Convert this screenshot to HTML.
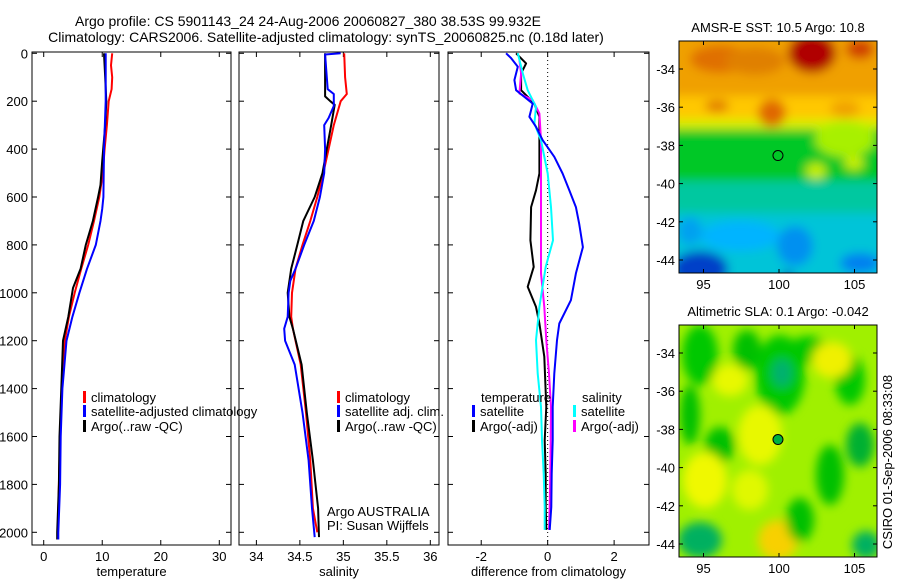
<!DOCTYPE html>
<html><head><meta charset="utf-8">
<style>
html,body{margin:0;padding:0;background:#fff;}
svg{display:block;font-family:"Liberation Sans",sans-serif;}
text{fill:#000;}
</style></head>
<body>
<svg id="fig" width="900" height="580" viewBox="0 0 900 580" xmlns="http://www.w3.org/2000/svg">
<defs>
<filter id="blur4" x="-20%" y="-20%" width="140%" height="140%"><feGaussianBlur stdDeviation="5"/></filter>
<clipPath id="clipM1"><rect x="679" y="41" width="198" height="232"/></clipPath>
<clipPath id="clipM2"><rect x="679" y="325" width="198" height="232"/></clipPath>
</defs>
<text x="308" y="26" font-size="14" text-anchor="middle">Argo profile: CS 5901143_24 24-Aug-2006 20060827_380 38.53S 99.932E</text>
<text x="326" y="42" font-size="14" text-anchor="middle">Climatology: CARS2006. Satellite-adjusted climatology: synTS_20060825.nc (0.18d later)</text>
<g id="panels"></g>
<g id="maps"></g>
<text transform="translate(892,462) rotate(-90)" font-size="13" text-anchor="middle">CSIRO 01-Sep-2006 08:33:08</text>
</svg>
<script>
// ---- data ----
const depthTicks = [0,200,400,600,800,1000,1200,1400,1600,1800,2000];
const tempTicks = [0,10,20,30];
const salTicks = [34,34.5,35,35.5,36];
const salTickLabels = ["34","34.5","35","35.5","36"];
const diffTicks = [-2,0,2];

const tClimDepth = [0,50,100,150,200,300,400,500,600,700,800,900,1000,1100,1200,1400,1600,1800,2000];
const tClim = [11.7,11.5,11.7,11.6,11.1,10.8,10.4,10.1,9.5,8.6,7.6,6.4,5.3,4.3,3.6,3.1,2.8,2.6,2.4];
const tSatDepth = [0,200,400,600,650,700,800,900,1000,1100,1200,1400,1600,1800,2000,2030];
const tSat = [10.6,10.6,10.3,10.2,10.0,9.7,8.9,7.4,6.1,4.9,3.9,3.2,2.9,2.8,2.5,2.5];
const tArgoDepth = [0,100,200,300,450,550,600,700,800,900,980,1100,1200,1400,1600,1800,2000,2030];
const tArgo = [10.3,10.5,10.7,10.5,10.0,9.7,9.3,8.4,7.2,6.3,5.0,4.2,3.3,3.0,2.7,2.6,2.3,2.3];

const sClimDepth = [0,100,170,200,300,400,500,600,700,800,900,1000,1100,1150,1300,1500,1700,1900,2000];
const sClim = [35.01,35.02,35.04,34.97,34.89,34.83,34.77,34.70,34.62,34.53,34.45,34.41,34.40,34.42,34.51,34.57,34.62,34.65,34.70];
const sSatDepth = [0,5,100,150,170,220,270,300,400,500,600,700,800,900,950,1000,1100,1150,1200,1300,1500,1700,1900,2020];
const sSat = [34.97,34.79,34.81,34.82,34.89,34.89,34.83,34.78,34.79,34.78,34.73,34.66,34.55,34.45,34.39,34.37,34.36,34.32,34.33,34.44,34.53,34.60,34.64,34.67];
const sArgoDepth = [0,180,200,215,300,400,500,600,700,800,900,1000,1100,1150,1300,1500,1700,1900,2020];
const sArgo = [34.79,34.79,34.85,34.90,34.86,34.81,34.76,34.67,34.54,34.47,34.40,34.36,34.38,34.42,34.52,34.58,34.65,34.71,34.72];

const dTSatDepth = [0,20,56,112,154,210,265,307,363,432,502,572,642,712,809,919,1031,1128,1198,1337,1477,1616,1755,1894,1990];
const dTSat = [-1.25,-1.1,-0.9,-1.0,-0.95,-0.45,-0.55,-0.35,-0.15,0.2,0.45,0.65,0.85,0.95,1.06,0.85,0.7,0.35,0.28,0.2,0.15,0.15,0.12,0.11,0.06];
const dTArgoDepth = [0,42,84,154,210,265,363,502,572,642,781,892,975,1059,1128,1267,1477,1616,1755,1894,1990];
const dTArgo = [-0.95,-0.65,-0.8,-0.8,-0.4,-0.25,-0.25,-0.25,-0.35,-0.5,-0.52,-0.42,-0.6,-0.35,-0.25,-0.1,-0.04,-0.09,-0.06,-0.06,-0.04];
const dSSatDepth = [0,84,154,224,293,363,502,642,781,892,1059,1198,1337,1477,1616,1755,1894,1990];
const dSSat = [-0.9,-0.75,-0.6,-0.35,-0.4,-0.2,0.0,0.1,0.16,-0.06,-0.25,-0.35,-0.3,-0.2,-0.17,-0.12,-0.09,-0.09];
const dSArgoDepth = [28,84,168,196,251,363,502,642,781,919,1059,1198,1337,1477,1616,1755,1894,1990];
const dSArgo = [-0.85,-0.8,-0.85,-0.45,-0.25,-0.2,-0.2,-0.2,-0.2,-0.2,-0.1,-0.04,0.04,0.1,0.09,0.08,0.06,0.04];

// ---- helpers ----
const NS = "http://www.w3.org/2000/svg";
function mk(tag, attrs, parent){ const e=document.createElementNS(NS,tag); for(const k in attrs) e.setAttribute(k,attrs[k]); parent.appendChild(e); return e; }
const panelsG = document.getElementById('panels');
const yTop = 52, yBot = 545;
const yScale = d => 53.3 + d*0.2395;

function makePanel(name, x0, x1, xmin, xmax, ticks, tickLabels, xlabel, leftLabels){
  const g = mk('g',{},panelsG);
  
  
  const xs = v => x0 + (v - xmin)/(xmax - xmin)*(x1 - x0);
  const frame = mk('rect',{x:x0,y:yTop,width:x1-x0,height:yBot-yTop,fill:'none',stroke:'#000','stroke-width':1},g);
  
  
  depthTicks.forEach(d=>{
    const y = yScale(d);
    mk('line',{x1:x0,y1:y,x2:x0+5,y2:y,stroke:'#000'},g);
    mk('line',{x1:x1,y1:y,x2:x1-5,y2:y,stroke:'#000'},g);
    if(leftLabels){
      const t = mk('text',{x:x0-4,y:y+5,'font-size':13,'text-anchor':'end'},g);
      t.textContent = d;
      
      
    }
  });
  ticks.forEach((v,i)=>{
    const x = xs(v);
    mk('line',{x1:x,y1:yBot,x2:x,y2:yBot-5,stroke:'#000'},g);
    mk('line',{x1:x,y1:yTop,x2:x,y2:yTop+5,stroke:'#000'},g);
    const t = mk('text',{x:x,y:yBot+16,'font-size':13,'text-anchor':'middle'},g);
    t.textContent = tickLabels[i];
    
    
  });
  const xl = mk('text',{x:(x0+x1)/2,y:576,'font-size':13,'text-anchor':'middle'},g);
  xl.textContent = xlabel;
  
  
  return {g, xs};
}
function drawLine(p, depths, vals, color, name, w){
  const pts = depths.map((d,i)=>p.xs(vals[i]).toFixed(1)+','+yScale(d).toFixed(1)).join(' ');
  const l = mk('polyline',{points:pts,fill:'none',stroke:color,'stroke-width':w||2,'stroke-linejoin':'round'},p.g);
  
  
}
function legendEntry(g, x, y, color, label){
  mk('rect',{x:x,y:y-9,width:3,height:12,fill:color},g);
  const t = mk('text',{x:x+8,y:y+2,'font-size':13},g);
  t.textContent = label;
  
  
}

// panel 1: temperature
const p1 = makePanel('temperature-panel', 32, 231, -2, 32, tempTicks, tempTicks.map(String), 'temperature', true);
drawLine(p1, tClimDepth, tClim, '#ff0000', 'temp-climatology-line');
drawLine(p1, tArgoDepth, tArgo, '#000000', 'temp-argo-line');
drawLine(p1, tSatDepth, tSat, '#0000ff', 'temp-satellite-line');
legendEntry(p1.g, 83, 400, '#ff0000', 'climatology');
legendEntry(p1.g, 83, 414, '#0000ff', 'satellite-adjusted climatology');
legendEntry(p1.g, 83, 429, '#000000', 'Argo(..raw -QC)');

// panel 2: salinity
const p2 = makePanel('salinity-panel', 239, 439, 33.8, 36.1, salTicks, salTickLabels, 'salinity', false);
drawLine(p2, sClimDepth, sClim, '#ff0000', 'sal-climatology-line');
drawLine(p2, sArgoDepth, sArgo, '#000000', 'sal-argo-line');
drawLine(p2, sSatDepth, sSat, '#0000ff', 'sal-satellite-line');
legendEntry(p2.g, 337, 400, '#ff0000', 'climatology');
legendEntry(p2.g, 337, 414, '#0000ff', 'satellite adj. clim.');
legendEntry(p2.g, 337, 429, '#000000', 'Argo(..raw -QC)');
const ag1 = mk('text',{x:327,y:516,'font-size':13},p2.g); ag1.textContent='Argo AUSTRALIA';


const ag2 = mk('text',{x:327,y:530,'font-size':13},p2.g); ag2.textContent='PI: Susan Wijffels';



// panel 3: difference
const p3 = makePanel('difference-panel', 448, 649, -3, 3.05, diffTicks, diffTicks.map(String), 'difference from climatology', false);
const zl = mk('line',{x1:p3.xs(0),y1:yTop,x2:p3.xs(0),y2:yBot,stroke:'#000','stroke-dasharray':'1,3'},p3.g);


drawLine(p3, dTArgoDepth, dTArgo, '#000000', 'diff-temp-argo-line');
drawLine(p3, dSArgoDepth, dSArgo, '#ff00ff', 'diff-sal-argo-line');
drawLine(p3, dSSatDepth, dSSat, '#00ffff', 'diff-sal-satellite-line');
drawLine(p3, dTSatDepth, dTSat, '#0000ff', 'diff-temp-satellite-line');
const lt1 = mk('text',{x:481,y:402,'font-size':13},p3.g); lt1.textContent='temperature';


const lt2 = mk('text',{x:582,y:402,'font-size':13},p3.g); lt2.textContent='salinity';


legendEntry(p3.g, 472, 414, '#0000ff', 'satellite');
legendEntry(p3.g, 472, 429, '#000000', 'Argo(-adj)');
legendEntry(p3.g, 573, 414, '#00ffff', 'satellite');
legendEntry(p3.g, 573, 429, '#ff00ff', 'Argo(-adj)');

// ---- maps ----
const mapsG = document.getElementById('maps');
const lonTicks = [95,100,105];
const latTicks = [-34,-36,-38,-40,-42,-44];
function makeMap(name, top, title, clipId, blobs, base){
  const g = mk('g',{},mapsG);
  
  
  const x0=679,x1=877,y1=top+232;
  const lx = lon => 779 + (lon-100)*15.1;
  const ly = lat => top + 28 + (-34 - lat)*19.1;
  const inner = mk('g',{'clip-path':'url(#'+clipId+')'},g);
  mk('rect',{x:x0,y:top,width:198,height:232,fill:base},inner);
  const bg = mk('g',{filter:'url(#blur4)'},inner);
  blobs.forEach(b=>{ mk(b[0]==='r'?'rect':'ellipse', b[0]==='r'?{x:b[1],y:top+b[2],width:b[3],height:b[4],fill:b[5]}:{cx:b[1],cy:top+b[2],rx:b[3],ry:b[4],fill:b[5]}, bg); });
  mk('rect',{x:x0,y:top,width:198,height:232,fill:'none',stroke:'#000'},g);
  const t = mk('text',{x:778,y:top-9,'font-size':13,'text-anchor':'middle'},g);
  t.textContent = title;
  
  
  lonTicks.forEach(l=>{
    const x = lx(l);
    mk('line',{x1:x,y1:y1,x2:x,y2:y1-4,stroke:'#000'},g);
    mk('line',{x1:x,y1:top,x2:x,y2:top+4,stroke:'#000'},g);
    const tt = mk('text',{x:x,y:y1+16,'font-size':13,'text-anchor':'middle'},g);
    tt.textContent = l;
    
    
  });
  latTicks.forEach(l=>{
    const y = ly(l);
    mk('line',{x1:x0,y1:y,x2:x0+4,y2:y,stroke:'#000'},g);
    mk('line',{x1:x1,y1:y,x2:x1-4,y2:y,stroke:'#000'},g);
    const tt = mk('text',{x:x0-4,y:y+5,'font-size':13,'text-anchor':'end'},g);
    tt.textContent = l;
    
    
  });
  return {g, lx, ly};
}
const m1 = makeMap('sst-map', 41, 'AMSR-E SST: 10.5 Argo: 10.8', 'clipM1', [
  ['r',670,-10,220,70,'#f0a000'],
  ['r',670,55,220,30,'#ffc800'],
  ['r',670,78,220,14,'#d8f000'],
  ['r',670,88,220,58,'#00c828'],
  ['r',670,140,220,36,'#00c8a0'],
  ['r',670,172,220,80,'#00c4d8'],
  ['e',720,18,30,14,'#e07000'],
  ['e',755,20,30,14,'#e08000'],
  ['e',812,12,24,20,'#b00000'],
  ['e',860,8,14,10,'#d04000'],
  ['e',717,65,12,6,'#e07800'],
  ['e',772,72,14,14,'#e06800'],
  ['e',845,68,15,8,'#f0a000'],
  ['e',845,98,30,18,'#a8f000'],
  ['e',816,130,10,8,'#c8f000'],
  ['e',854,122,10,7,'#c8f000'],
  ['e',740,195,40,15,'#00b4ff'],
  ['e',795,205,18,20,'#0090f0'],
  ['e',788,238,5,8,'#0040c0'],
  ['e',700,228,28,18,'#0040c8'],
  ['e',860,222,20,10,'#0080f0'],
  ['e',690,190,12,14,'#00a0f0']
], '#00c8c0');
const m2 = makeMap('sla-map', 325, 'Altimetric SLA: 0.1 Argo: -0.042', 'clipM2', [
  ['e',700,30,18,30,'#00c800'],
  ['e',747,25,14,20,'#00c000'],
  ['e',808,25,20,14,'#00c800'],
  ['e',780,50,25,40,'#00c800'],
  ['e',782,48,10,14,'#00b070'],
  ['e',850,55,15,25,'#00c800'],
  ['e',730,55,18,16,'#e8f800'],
  ['e',832,35,20,18,'#f0f000'],
  ['e',760,110,22,30,'#e8f800'],
  ['e',720,120,15,18,'#00c000'],
  ['e',830,150,14,30,'#00c000'],
  ['e',860,120,14,22,'#00b030'],
  ['e',705,155,22,28,'#f0f800'],
  ['e',750,165,18,20,'#e0f800'],
  ['e',700,215,22,18,'#00b060'],
  ['e',778,215,20,20,'#f8d000'],
  ['e',800,195,14,22,'#00c000'],
  ['e',866,220,14,14,'#00b060'],
  ['e',690,90,10,30,'#00c000']
], '#a0f000');
// argo position markers
[m1,m2].forEach((m,i)=>{
  const c = mk('circle',{cx:m.lx(99.932),cy:m.ly(-38.53),r:5,fill:i===1?'#00b040':'none',stroke:'#000'},m.g);
  
  
});
</script>
</body></html>
